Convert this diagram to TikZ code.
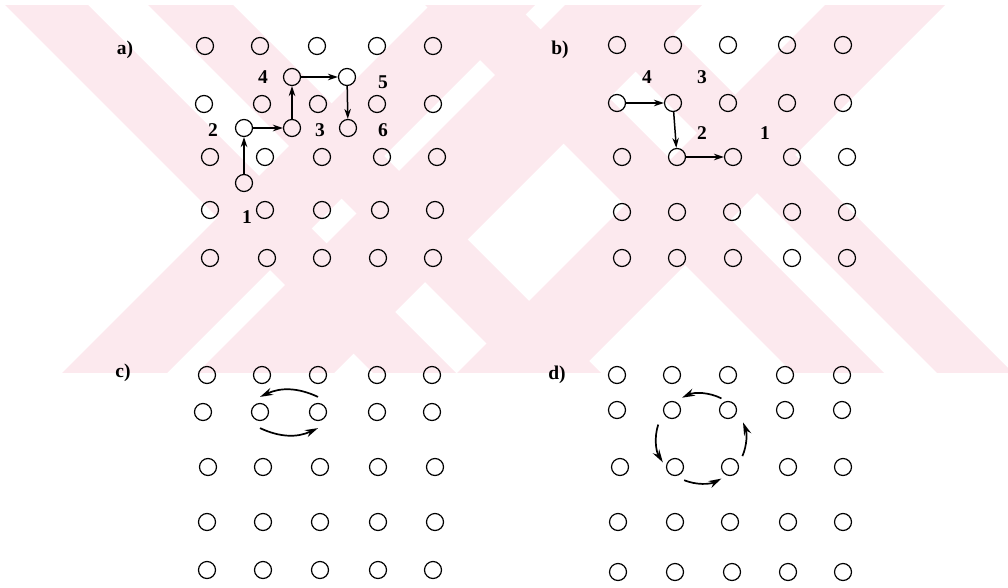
\documentclass[tikz,border=0pt]{standalone}
\usepackage{fontspec}
\setmainfont{Liberation Serif}
\usetikzlibrary{arrows.meta,calc}
\definecolor{wmpink}{RGB}{252,233,238}

\begin{document}
\begin{tikzpicture}[x=1pt, y=1pt, font=\fontsize{19.5}{22}\selectfont\bfseries]
    \tikzset{atom/.style={circle,draw,line width=1.2pt,minimum size=17pt,inner sep=0pt},
             hop/.style={-{Stealth[length=10pt,width=6.5pt]},line width=1.5pt},
             swap/.style={-{Stealth[length=13pt,width=7.5pt]},line width=1.7pt},
             tag/.style={inner sep=0pt}}
    \useasboundingbox (0,0) rectangle (1008,-588);

    % Background watermark bands
    \begin{scope}
      \clip (0,-6) rectangle (1008,-372);
      \foreach \lo/\hi in {0/83,143/228,420/511,564/640}
        \fill[wmpink] (\lo,0) -- (\hi,0) -- (\hi+400,-400) -- (\lo+400,-400) -- cycle;
      \foreach \lo/\hi in {435/540,570/707,830/950}
        \fill[wmpink] (\lo,0) -- (\hi,0) -- (\hi-400,-400) -- (\lo-400,-400) -- cycle;
    \end{scope}

    % Panel a) lattice
    \node[tag] (la) at (125,-50) {a)};
    \foreach \x [count=\i] in {205,260,317,377,433} \node[atom] (a1\i) at (\x,-46) {};
    \foreach \x [count=\i] in {204,262,318,377,433} \node[atom] (a2\i) at (\x,-104) {};
    \foreach \x [count=\i] in {210,265,322,382,437} \node[atom] (a3\i) at (\x,-157) {};
    \foreach \x [count=\i] in {210,265,322,380,435} \node[atom] (a4\i) at (\x,-210) {};
    \foreach \x [count=\i] in {210,267,322,378,433} \node[atom] (a5\i) at (\x,-258) {};

    % Interstitial path in a)
    \node[atom] (s1) at (244,-183) {};
    \node[atom] (s2) at (244,-128) {};
    \node[atom] (s3) at (292,-128) {};
    \node[atom] (s4) at (292,-77) {};
    \node[atom] (s5) at (347,-77) {};
    \node[atom] (s6) at (348,-128) {};
    \node[tag] at (247,-217) {1};
    \node[tag] at (213,-130) {2};
    \node[tag] at (320,-130) {3};
    \node[tag] at (263,-77) {4};
    \node[tag] at (383,-82) {5};
    \node[tag] at (383,-130) {6};
    \draw[hop] (s1) -- (s2);
    \draw[hop] (s2) -- (s3);
    \draw[hop] (s3) -- (s4);
    \draw[hop] (s4) -- (s5);
    \draw[hop] (s5) -- (s6);

    % Panel b) lattice
    \node[tag] (lb) at (560,-50) {b)};
    \foreach \x [count=\i] in {617,673,728,787,843} \node[atom] (b1\i) at (\x,-45) {};
    \foreach \x [count=\i] in {617,673,728,787,843} \node[atom] (b2\i) at (\x,-103) {};
    \foreach \x [count=\i] in {622,677,733,792,847} \node[atom] (b3\i) at (\x,-157) {};
    \foreach \x [count=\i] in {622,677,732,792,847} \node[atom] (b4\i) at (\x,-212) {};
    \foreach \x [count=\i] in {622,677,733,792,847} \node[atom] (b5\i) at (\x,-258) {};
    \node[tag] at (647,-77) {4};
    \node[tag] at (702,-77) {3};
    \node[tag] at (702,-133) {2};
    \node[tag] at (765,-133) {1};
    \draw[hop] (b21) -- (b22);
    \draw[hop] (b22) -- (b32);
    \draw[hop] (b32) -- (b33);

    % Panel c) lattice
    \node[tag] (lc) at (123,-373) {c)};
    \foreach \x [count=\i] in {207,262,318,377,432} \node[atom] (c1\i) at (\x,-375) {};
    \foreach \x [count=\i] in {203,260,318,377,432} \node[atom] (c2\i) at (\x,-412) {};
    \foreach \x [count=\i] in {208,263,320,378,435} \node[atom] (c3\i) at (\x,-467) {};
    \foreach \x [count=\i] in {207,263,320,378,435} \node[atom] (c4\i) at (\x,-522) {};
    \foreach \x [count=\i] in {207,263,320,378,433} \node[atom] (c5\i) at (\x,-570) {};

    % Pair exchange in c)
    \draw[swap] ([yshift=6pt]c23.north) to[bend right=25] ([yshift=6pt]c22.north);
    \draw[swap] ([yshift=-7pt]c22.south) to[bend right=25] ([yshift=-7pt]c23.south);

    % Panel d) lattice
    \node[tag] (ld) at (557,-375) {d)};
    \foreach \x [count=\i] in {617,672,728,785,842} \node[atom] (d1\i) at (\x,-375) {};
    \foreach \x [count=\i] in {617,672,728,785,842} \node[atom] (d2\i) at (\x,-410) {};
    \foreach \x [count=\i] in {620,675,730,788,843} \node[atom] (d3\i) at (\x,-467) {};
    \foreach \x [count=\i] in {618,675,730,788,843} \node[atom] (d4\i) at (\x,-522) {};
    \foreach \x [count=\i] in {618,675,732,788,843} \node[atom] (d5\i) at (\x,-572) {};

    % Ring exchange in d)
    \coordinate (ring) at ($(d22)!0.5!(d33)$);
    \draw[swap] ([shift={(63:45)}]ring) arc[start angle=63, end angle=115, radius=45];
    \draw[swap] ([shift={(162:45)}]ring) arc[start angle=162, end angle=212, radius=45];
    \draw[swap] ([shift={(248:45)}]ring) arc[start angle=248, end angle=297, radius=45];
    \draw[swap] ([shift={(337:45)}]ring) arc[start angle=337, end angle=381, radius=45];

\end{tikzpicture}
\end{document}
